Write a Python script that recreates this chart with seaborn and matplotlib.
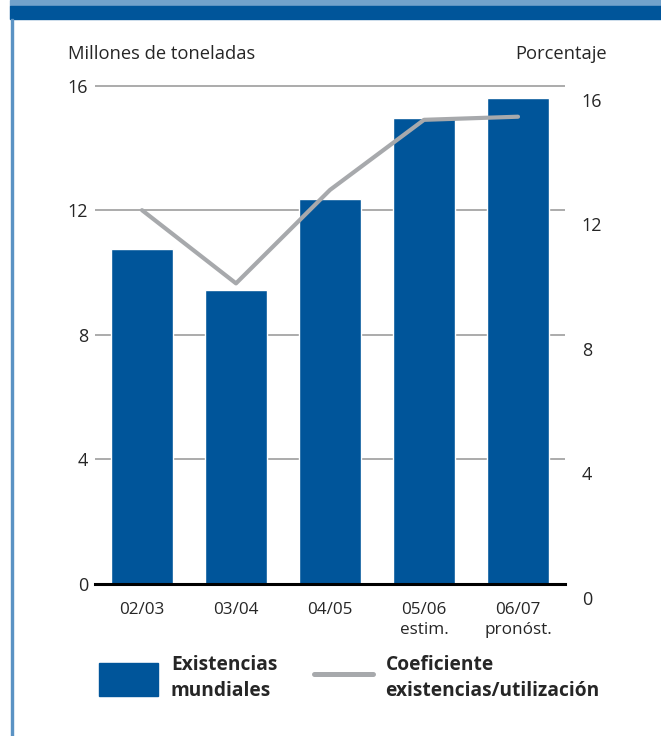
import numpy as np
import seaborn as sns
import matplotlib.pyplot as plt
from matplotlib.patches import Patch, Rectangle
from matplotlib.lines import Line2D

# data
temporadas = ["02/03", "03/04", "04/05", "05/06\nestim.", "06/07\npronóst."]
existencias = [10.75, 9.45, 12.35, 14.95, 15.6]      # millones de toneladas
coeficiente = [12.45, 10.1, 13.1, 15.35, 15.45]      # porcentaje
yticks = [0, 4, 8, 12, 16]

azul = "#00559a"
gris = "#a7a9ac"

sns.set_theme(style="white")
plt.rcParams["font.family"] = ["Open Sans", "DejaVu Sans"]

fig = plt.figure(figsize=(6.61, 7.36), dpi=100)

# banda superior y borde izquierdo
fig.patches.append(Rectangle((10 / 661, 1 - 6 / 736), 1, 6 / 736, transform=fig.transFigure,
                             color="#72a2cb", zorder=0))
fig.patches.append(Rectangle((10 / 661, 1 - 19 / 736), 1, 13 / 736, transform=fig.transFigure,
                             color=azul, zorder=0))
fig.patches.append(Rectangle((11 / 661, 0), 2 / 661, 1 - 19 / 736, transform=fig.transFigure,
                             color="#5b93c4", zorder=0))

ax = fig.add_axes([95 / 661, 1 - 584 / 736, 470 / 661, (584 - 70) / 736])
sns.barplot(x=list(range(len(temporadas))), y=existencias, color=azul, width=0.66,
            saturation=1, ax=ax, zorder=3)
ax.set_yticks(yticks)
ax.set_xticks(range(len(temporadas)))
ax.set_xticklabels(temporadas, fontsize=12.3, linespacing=1.3)
ax.set_xlim(-0.5, 4.5)
ax.set_ylim(0, 16.5)
ax.tick_params(axis="y", length=0, pad=5, labelsize=13)
ax.tick_params(axis="x", length=0, pad=13)
for v in yticks[1:]:
    ax.axhline(v, color="#9d9d9d", lw=1.2, zorder=1)
for s in ["top", "left", "right"]:
    ax.spines[s].set_visible(False)
ax.spines["bottom"].set_color("black")
ax.spines["bottom"].set_linewidth(2.2)
ax.spines["bottom"].set_zorder(5)
ax.set_xlabel("")
ax.set_ylabel("")

# eje derecho (porcentaje), desplazado 14 px hacia abajo como en el original
ax2 = fig.add_axes([95 / 661, 1 - 598 / 736, 470 / 661, (584 - 70) / 736])
ax2.patch.set_visible(False)
sns.lineplot(x=list(range(len(temporadas))), y=coeficiente, color=gris, lw=3,
             solid_capstyle="round", ax=ax2, zorder=4)
ax2.set_yticks(yticks)
ax2.set_xticks([])
ax2.set_xlim(-0.5, 4.5)
ax2.set_ylim(0, 16.5)
ax2.yaxis.tick_right()
ax2.tick_params(axis="y", length=0, pad=12, labelsize=13)
for s in ax2.spines.values():
    s.set_visible(False)
ax2.set_ylabel("")
ax2.grid(False)

fig.text(68 / 661, 1 - 54 / 736, "Millones de toneladas", fontsize=13.2, va="center", ha="left")
fig.text(607 / 661, 1 - 54 / 736, "Porcentaje", fontsize=13.2, va="center", ha="right")

handles = [Patch(facecolor=azul, edgecolor=azul),
           Line2D([], [], color=gris, lw=3.6, solid_capstyle="round")]
labels = ["Existencias\nmundiales", "Coeficiente\nexistencias/utilización"]
leg = fig.legend(handles, labels, loc="upper left", bbox_to_anchor=(99 / 661, 1 - 655 / 736),
                 ncol=2, frameon=False, borderpad=0, borderaxespad=0, handlelength=3.1,
                 handleheight=2.2, handletextpad=0.65, columnspacing=1.9, labelspacing=0,
                 prop={"weight": "bold", "size": 13.8})
for t in leg.get_texts():
    t.set_linespacing(1.4)

fig.savefig("out.png", dpi=100)
